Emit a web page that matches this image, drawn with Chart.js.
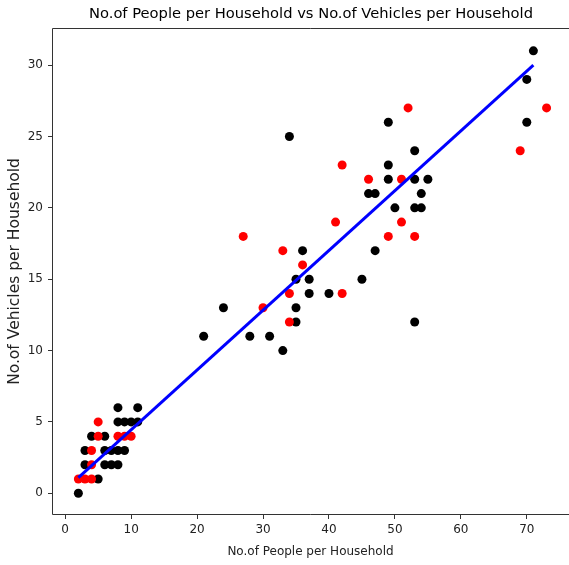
<!DOCTYPE html>
<html>
<head>
<meta charset="utf-8">
<script src="https://cdn.jsdelivr.net/npm/chart.js@4/dist/chart.umd.min.js"></script>
<style>
  html, body { margin: 0; padding: 0; background: #fff; overflow: hidden; }
  #wrap { width: 569px; height: 565px; }
</style>
</head>
<body>
<div id="wrap"><canvas id="householdChart"></canvas></div>
<script>
// training points (black)
const blackX = [2, 5, 3, 6, 7, 8, 3, 6, 7, 8, 9, 4, 6, 8, 9, 10, 11, 8, 11,
    21, 24, 28, 31, 33, 34, 35, 35, 35, 36, 37, 37, 40, 45,
    47, 46, 47, 49, 49, 49, 50, 53, 53, 53, 54, 54, 55, 53,
    70, 70, 71];
const blackY = [0, 1, 2, 2, 2, 2, 3, 3, 3, 3, 3, 4, 4, 5, 5, 5, 5, 6, 6,
    11, 13, 11, 11, 10, 25, 15, 13, 12, 17, 15, 14, 14, 15,
    17, 21, 21, 26, 23, 22, 20, 24, 22, 20, 21, 20, 22, 12,
    29, 26, 31];

// test points (red)
const redX = [2, 3, 4, 4, 4, 5, 8, 9, 10, 5,
    27, 30, 33, 34, 34, 36, 41, 42, 42, 46, 49, 51, 51, 52, 53, 69, 73];
const redY = [1, 1, 1, 2, 3, 4, 4, 4, 4, 5,
    18, 13, 17, 14, 12, 16, 19, 23, 14, 22, 18, 22, 19, 27, 18, 24, 27];

// fitted line (blue)
const fitX = [2, 71];
const fitY = [1.1, 30.0];

const xMin = -2.0, xMax = 76.4;
const yMin = -1.52, yMax = 32.6;

const titleText = 'No.of People per Household vs No.of Vehicles per Household';
const font = 'DejaVu Sans';

function toPoints(xs, ys) {
    return xs.map((x, i) => ({ x: x, y: ys[i] }));
}

// spines (right one is cropped off in the original) + title centred over the axes
const frameBox = {
    id: 'frameBox',
    afterDraw(chart) {
        const a = chart.chartArea;
        const c = chart.ctx;
        const w = chart.width;
        c.save();
        c.strokeStyle = '#333';
        c.lineWidth = 1;
        c.beginPath();
        c.moveTo(w, a.top + 0.5);
        c.lineTo(a.left + 0.5, a.top + 0.5);
        c.lineTo(a.left + 0.5, a.bottom - 0.5);
        c.lineTo(w, a.bottom - 0.5);
        c.stroke();

        c.fillStyle = '#000';
        c.font = '14.7px "' + font + '"';
        c.textAlign = 'center';
        c.textBaseline = 'middle';
        c.fillText(titleText, (a.left + 570) / 2, 14);
        c.restore();
    }
};

const ctx = document.getElementById('householdChart').getContext('2d');
const householdChart = new Chart(ctx, {
    type: 'scatter',
    data: {
        datasets: [
            {
                type: 'line',
                label: 'Fit',
                data: toPoints(fitX, fitY),
                borderColor: '#0000ff',
                borderWidth: 3,
                pointRadius: 0,
                fill: false,
            },
            {
                label: 'Test',
                data: toPoints(redX, redY),
                backgroundColor: '#ff0000',
                borderWidth: 0,
                pointRadius: 4.5,
            },
            {
                label: 'Train',
                data: toPoints(blackX, blackY),
                backgroundColor: '#000000',
                borderWidth: 0,
                pointRadius: 4.5,
            }
        ]
    },
    options: {
        responsive: true,
        maintainAspectRatio: false,
        animation: false,
        layout: { autoPadding: false, padding: { left: 0, right: 0, top: 28, bottom: 6 } },
        plugins: {
            legend: { display: false },
            tooltip: { enabled: false },
            title: { display: false }
        },
        scales: {
            x: {
                type: 'linear',
                min: xMin,
                max: xMax,
                afterFit(scale) {
                    scale.height = 44;
                    scale.paddingLeft = 0;
                    scale.paddingRight = 0;
                },
                border: { display: false },
                grid: { drawOnChartArea: false, drawTicks: true, tickLength: 4, color: '#333' },
                ticks: {
                    stepSize: 10,
                    includeBounds: false,
                    padding: 4,
                    color: '#222',
                    font: { family: font, size: 12 }
                },
                title: {
                    display: true,
                    text: 'No.of People per Household',
                    color: '#222',
                    font: { family: font, size: 12 },
                    padding: { top: 0, bottom: 0 }
                }
            },
            y: {
                type: 'linear',
                min: yMin,
                max: yMax,
                afterFit(scale) {
                    scale.width = 52;
                    scale.paddingTop = 0;
                    scale.paddingBottom = 0;
                },
                border: { display: false },
                grid: { drawOnChartArea: false, drawTicks: true, tickLength: 4, color: '#333' },
                ticks: {
                    stepSize: 5,
                    includeBounds: false,
                    padding: 5,
                    color: '#222',
                    font: { family: font, size: 12 }
                },
                title: {
                    display: true,
                    text: 'No.of Vehicles per Household',
                    color: '#222',
                    font: { family: font, size: 15.5 },
                    padding: { top: 6, bottom: 0 }
                }
            }
        }
    },
    plugins: [frameBox]
});
</script>
</body>
</html>
